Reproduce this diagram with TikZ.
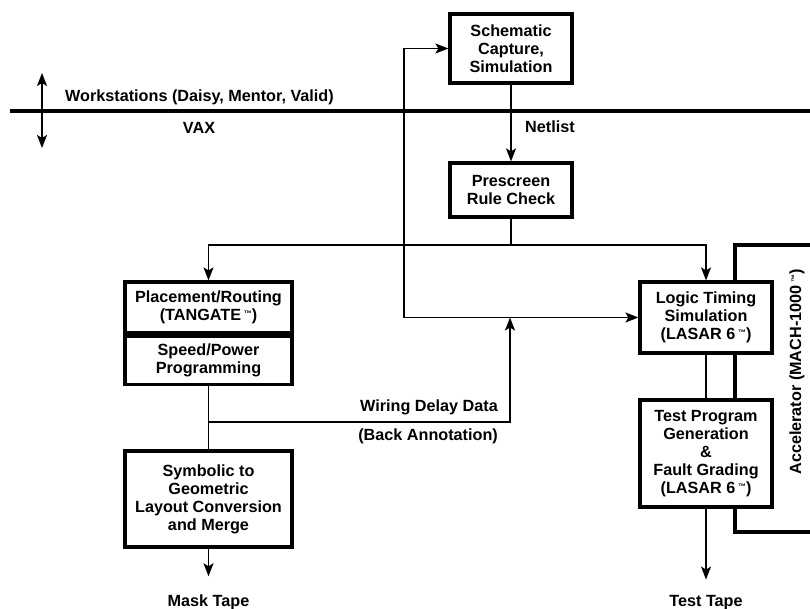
\documentclass[tikz,border=0pt]{standalone}
\usepackage{fontspec}
\setmainfont{Liberation Sans}
\usepackage{tikz}
\usetikzlibrary{arrows.meta,positioning,calc}
\newcommand{\tmark}{\,\raisebox{4pt}{\fontsize{8}{8}\selectfont ™}}
\tikzset{
  >={Stealth[length=13pt,width=10pt,inset=3pt]},
  blk/.style={draw, line width=3.2pt, fill=white, align=center, minimum width=122pt, inner sep=2pt, font=\fontsize{16.2}{18}\selectfont\bfseries},
  arr/.style={->, line width=1.6pt},
  lnk/.style={line width=1.6pt},
  bus/.style={line width=4.5pt},
  lbl/.style={font=\fontsize{16.2}{18}\selectfont\bfseries, inner sep=0pt}
}

\begin{document}
\begin{tikzpicture}[x=1pt, y=-1pt]
  \useasboundingbox (0,0) rectangle (810,609);
  % accelerator bus, drawn first so the boxes cover it
  \coordinate (accTR) at (812,245);
  \coordinate (accTL) at (735,245);
  \coordinate (accBL) at (735,532);
  \coordinate (accBR) at (812,532);
  \draw[bus] (accTR) -- (accTL) -- (accBL) -- (accBR);
  % workstation / VAX boundary
  \coordinate (barL) at (10,111);
  \coordinate (barR) at (812,111);
  \draw[bus] (barL) -- (barR);
  \coordinate (upT) at (42,73);
  \coordinate (dnT) at (42,148);
  \draw[<->, line width=1.6pt] (upT) -- (dnT);
  \node[lbl, anchor=west] (ws) at (65,97) {Workstations (Daisy, Mentor, Valid)};
  \node[lbl] (vax) at (199,128) {VAX};

  \node[blk, minimum height=69pt] (cap) at (511,48.5) {Schematic\\Capture,\\Simulation};
  \node[blk, minimum height=54pt] (pre) at (511,190) {Prescreen\\Rule Check};
  \node[lbl, anchor=west] (net) at (525,127) {Netlist};

  \node[blk, minimum width=167pt, minimum height=51pt] (place) at (208.5,307.5) {Placement/Routing\\(TANGATE\tmark)};
  \node[blk, minimum width=167pt, minimum height=48pt, below=0pt of place] (speed) {Speed/Power\\Programming};
  \node[blk, minimum width=167pt, minimum height=96pt] (sym) at (208.5,499) {Symbolic to\\Geometric\\Layout Conversion\\and Merge};
  \node[lbl] (mask) at (208.5,602) {Mask Tape};

  \node[blk, minimum width=132pt, minimum height=71pt] (lts) at (706,317.5) {Logic Timing\\Simulation\\(LASAR 6\tmark)};
  \node[blk, minimum width=132pt, minimum height=107pt] (tpg) at (706,453.5) {Test Program\\Generation\\\&\\Fault Grading\\(LASAR 6\tmark)};
  \node[lbl] (tape) at (706,603) {Test Tape};
  \node[lbl, rotate=90] (acc) at (797,372) {Accelerator (MACH-1000\tmark)};

  % netlist flow
  \draw[arr] (cap.south) -- (pre.north);
  \coordinate (split) at (511,245);
  \draw[lnk] (pre.south) -- (split);
  \draw[arr] (split) -| (place.north);
  \draw[arr] (split) -| (lts.north);

  % simulation loop back to capture
  \coordinate (fbB) at (404,317.5);
  \draw[arr] (fbB) -- (lts.west);
  \draw[arr] (fbB) |- (cap.west);

  % back annotation
  \draw[lnk] (speed.south) -- (sym.north);
  \coordinate (wddy) at (0,422);
  \coordinate (wddR) at (510,422);
  \draw[arr] (speed.south |- wddy) -- (wddR) -- (wddR |- fbB);
  \node[lbl, anchor=east] (wlbl) at (498,407) {Wiring Delay Data};
  \node[lbl, anchor=east] (blbl) at (498,436) {(Back Annotation)};

  \draw[arr, shorten >=18pt] (sym.south) -- (mask.north);
  \draw[lnk] (lts.south) -- (tpg.north);
  \draw[arr, shorten >=16pt] (tpg.south) -- (tape.north);
\end{tikzpicture}
\end{document}
